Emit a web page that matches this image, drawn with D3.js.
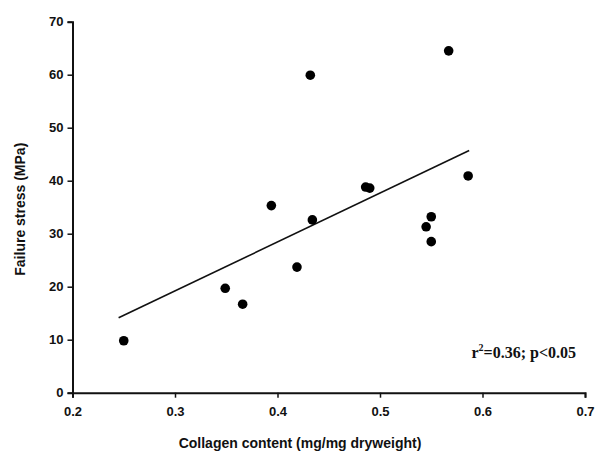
<!DOCTYPE html>
<html>
<head>
<meta charset="utf-8">
<script src="https://cdn.jsdelivr.net/npm/d3@7"></script>
<style>
  html, body { margin: 0; padding: 0; background: #fff; }
  svg { display: block; }
  .tick text { font-family: "Liberation Sans", Arial, sans-serif; font-weight: bold; font-size: 13px; fill: #111; }
</style>
</head>
<body>
<svg id="chart" width="596" height="453"></svg>
<script>
// Collagen content (mg/mg dry weight) vs failure stress (MPa)
const collagen = [0.250, 0.349, 0.366, 0.394, 0.419, 0.432, 0.434, 0.486, 0.490, 0.545, 0.550, 0.550, 0.567, 0.586];
const stress   = [9.8, 19.7, 16.7, 35.3, 23.7, 59.9, 32.6, 38.8, 38.6, 31.3, 33.2, 28.5, 64.5, 40.9];
const xTicks = [0.2, 0.3, 0.4, 0.5, 0.6, 0.7];
const yTicks = [0, 10, 20, 30, 40, 50, 60, 70];
const fitRange = [0.245, 0.587];
const statsLabel = ["r", "2", "=0.36; p<0.05"];

const svg = d3.select("#chart");
const margin = { left: 72.5, right: 11, top: 21.7, bottom: 60.3 };
const W = 596, H = 453;

const x = d3.scaleLinear().domain([0.2, 0.7]).range([margin.left, W - margin.right]);
const y = d3.scaleLinear().domain([0, 70]).range([H - margin.bottom, margin.top]);

// least-squares regression line
const mx = d3.mean(collagen), my = d3.mean(stress);
let sxy = 0, sxx = 0;
collagen.forEach((v, i) => { sxy += (v - mx) * (stress[i] - my); sxx += (v - mx) * (v - mx); });
const slope = sxy / sxx, intercept = my - slope * mx;

const xAxis = svg.append("g")
  .attr("transform", `translate(0,${y(0)})`)
  .call(d3.axisBottom(x).tickValues(xTicks).tickFormat(d3.format(".1f")).tickSize(5).tickPadding(9));
const yAxis = svg.append("g")
  .attr("transform", `translate(${x(0.2)},0)`)
  .call(d3.axisLeft(y).tickValues(yTicks).tickFormat(d3.format("d")).tickSize(5).tickPadding(4));
[xAxis, yAxis].forEach(g => {
  g.select(".domain").attr("stroke", "#111").attr("stroke-width", 2);
  g.selectAll(".tick line").attr("stroke", "#111").attr("stroke-width", 1.5);
});

svg.append("line")
  .attr("x1", x(fitRange[0])).attr("y1", y(intercept + slope * fitRange[0]))
  .attr("x2", x(fitRange[1])).attr("y2", y(intercept + slope * fitRange[1]))
  .attr("stroke", "#111").attr("stroke-width", 1.6);

svg.append("g").selectAll("circle")
  .data(collagen.map((v, i) => [v, stress[i]]))
  .join("circle")
  .attr("cx", d => x(d[0])).attr("cy", d => y(d[1]))
  .attr("r", 4.8).attr("fill", "#000");

svg.append("text")
  .attr("transform", `translate(25,${(y(0) + y(70)) / 2 + 2}) rotate(-90)`)
  .attr("text-anchor", "middle")
  .style("font-family", "'Liberation Sans', Arial, sans-serif")
  .style("font-weight", "bold").style("font-size", "14px").attr("fill", "#111")
  .text("Failure stress (MPa)");

svg.append("text")
  .attr("x", 300).attr("y", 448)
  .attr("text-anchor", "middle")
  .style("font-family", "'Liberation Sans', Arial, sans-serif")
  .style("font-weight", "bold").style("font-size", "14px").attr("fill", "#111")
  .text("Collagen content (mg/mg dryweight)");

const stat = svg.append("text")
  .attr("x", 576).attr("y", 358)
  .attr("text-anchor", "end")
  .style("font-family", "'Liberation Serif', 'Times New Roman', serif")
  .style("font-weight", "bold").style("font-size", "16px").attr("fill", "#111");
stat.append("tspan").text(statsLabel[0]);
stat.append("tspan").attr("dy", -7).style("font-size", "10px").text(statsLabel[1]);
stat.append("tspan").attr("dy", 7).text(statsLabel[2]);
</script>
</body>
</html>
